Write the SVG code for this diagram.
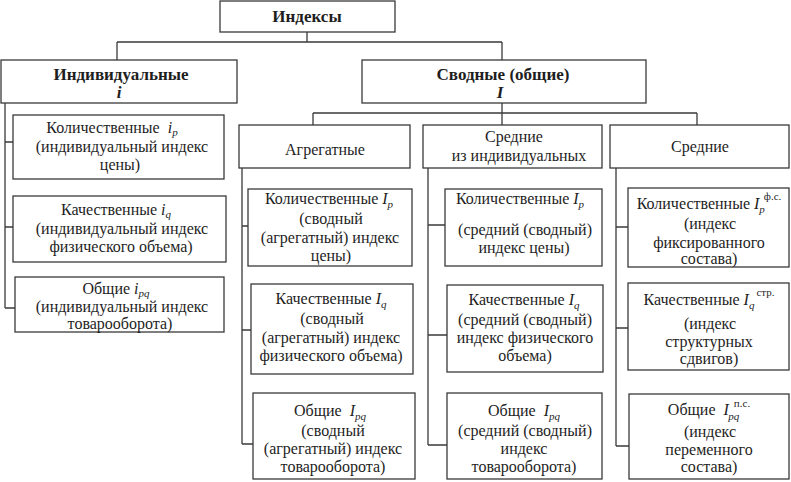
<svg xmlns="http://www.w3.org/2000/svg" width="791" height="482" viewBox="0 0 791 482">
<style>
.box{fill:#fff;stroke:#3a3a3a;stroke-width:1.3}
.ln{fill:none;stroke:#3a3a3a;stroke-width:1.3}
text{font-family:"Liberation Serif","Times New Roman",serif;font-size:16px;fill:#1e1e1e;text-anchor:middle}
.b{font-weight:bold;font-size:17px}
.i{font-style:italic}
.s{font-size:11px;font-style:italic}
.u{font-size:11px}
</style>
<rect width="791" height="482" fill="#fff"/>
<g id="connectors">
<path class="ln" d="M307,32 V42 M117,42 H502 M117,42 V60 M502,42 V60"/>
<path class="ln" d="M502,103 V125 M313,113 H697 M313,113 V125 M697,113 V125"/>
<path class="ln" d="M5,103 V308 M5,142 H13 M5,227 H13 M5,308 H15"/>
<path class="ln" d="M242,168 V444 M242,226 H248 M242,330 H251 M242,444 H253"/>
<path class="ln" d="M428,168 V445 M428,225 H445 M428,335 H447 M428,445 H447"/>
<path class="ln" d="M616,168 V446 M616,227 H628 M616,328 H628 M616,446 H629"/>
</g>
<g id="n-indexes"><rect class="box" x="220" y="1" width="175" height="31"/><text class="b" x="307" y="22">Индексы</text></g>
<g id="n-individual"><rect class="box" x="1" y="60" width="236" height="43"/><text class="b" x="121" y="80">Индивидуальные</text><text class="b i" x="119" y="98">i</text></g>
<g id="n-summary"><rect class="box" x="362" y="60" width="284" height="43"/><text class="b" x="503" y="80">Сводные (общие)</text><text class="b i" x="500" y="98">I</text></g>
<g id="n-aggregate"><rect class="box" x="239" y="125" width="171" height="43"/><text x="325" y="155">Агрегатные</text></g>
<g id="n-avg-ind"><rect class="box" x="423" y="125" width="179" height="43"/><text x="514" y="142">Средние</text><text x="519" y="161">из индивидуальных</text></g>
<g id="n-avg"><rect class="box" x="610" y="125" width="179" height="43"/><text x="700" y="152">Средние</text></g>

<g id="n-l1"><rect class="box" x="13" y="115" width="211" height="64"/>
<text x="112" y="133">Количественные<tspan class="i" dx="8">i</tspan><tspan class="s" dy="3">p</tspan></text>
<text x="122" y="152">(индивидуальный индекс</text><text x="120" y="170">цены)</text></g>
<g id="n-l2"><rect class="box" x="13" y="196" width="213" height="66"/>
<text x="116" y="215">Качественные<tspan class="i" dx="4">i</tspan><tspan class="s" dy="3">q</tspan></text>
<text x="122" y="234">(индивидуальный индекс</text><text x="121" y="252">физического объема)</text></g>
<g id="n-l3"><rect class="box" x="15" y="277" width="209" height="55"/>
<text x="116" y="294">Общие<tspan class="i" dx="4">i</tspan><tspan class="s" dy="3">pq</tspan></text>
<text x="122" y="312">(индивидуальный индекс</text><text x="120" y="329">товарооборота)</text></g>

<g id="n-a1"><rect class="box" x="248" y="189" width="164" height="77"/>
<text x="329" y="204">Количественные<tspan class="i" dx="4">I</tspan><tspan class="s" dy="4">p</tspan></text>
<text x="331" y="224">(сводный</text><text x="330" y="243">(агрегатный) индекс</text><text x="331" y="261">цены)</text></g>
<g id="n-a2"><rect class="box" x="251" y="284" width="162" height="90"/>
<text x="331" y="304">Качественные<tspan class="i" dx="4">I</tspan><tspan class="s" dy="4">q</tspan></text>
<text x="332" y="324">(сводный</text><text x="331" y="343">(агрегатный) индекс</text><text x="331" y="361">физического объема)</text></g>
<g id="n-a3"><rect class="box" x="253" y="393" width="162" height="86"/>
<text x="330" y="416">Общие<tspan class="i" dx="8">I</tspan><tspan class="s" dy="4">pq</tspan></text>
<text x="333" y="436">(сводный</text><text x="333" y="454">(агрегатный) индекс</text><text x="333" y="472">товарооборота)</text></g>

<g id="n-m1"><rect class="box" x="445" y="189" width="157" height="77"/>
<text x="520" y="204">Количественные<tspan class="i" dx="4">I</tspan><tspan class="s" dy="4">p</tspan></text>
<text x="525" y="235">(средний (сводный)</text><text x="524" y="253">индекс цены)</text></g>
<g id="n-m2"><rect class="box" x="447" y="285" width="156" height="87"/>
<text x="524" y="305">Качественные<tspan class="i" dx="4">I</tspan><tspan class="s" dy="4">q</tspan></text>
<text x="525" y="325">(средний (сводный)</text><text x="525" y="343">индекс физического</text><text x="525" y="361">объема)</text></g>
<g id="n-m3"><rect class="box" x="447" y="393" width="155" height="86"/>
<text x="524" y="416">Общие<tspan class="i" dx="8">I</tspan><tspan class="s" dy="4">pq</tspan></text>
<text x="525" y="436">(средний (сводный)</text><text x="524" y="454">индекс</text><text x="524" y="472">товарооборота)</text></g>

<g id="n-r1"><rect class="box" x="628" y="188" width="161" height="79"/>
<text x="709" y="209">Количественные<tspan class="i" dx="4">I</tspan><tspan class="s" dy="4">p</tspan><tspan class="u" dx="-1" dy="-13">ф.с.</tspan></text>
<text x="710" y="229">(индекс</text><text x="709" y="248">фиксированного</text><text x="709" y="264">состава)</text></g>
<g id="n-r2"><rect class="box" x="628" y="283" width="161" height="87"/>
<text x="709" y="305">Качественные<tspan class="i" dx="4">I</tspan><tspan class="s" dy="4">q</tspan><tspan class="u" dx="2" dy="-13">стр.</tspan></text>
<text x="710" y="329">(индекс</text><text x="709" y="347">структурных</text><text x="709" y="364">сдвигов)</text></g>
<g id="n-r3"><rect class="box" x="629" y="394" width="160" height="85"/>
<text x="709" y="415">Общие<tspan class="i" dx="8">I</tspan><tspan class="u" dx="5" dy="-8">п.с.</tspan><tspan class="s" dx="-22" dy="13">pq</tspan></text>
<text x="710" y="437">(индекс</text><text x="709" y="455">переменного</text><text x="709" y="472">состава)</text></g>
</svg>
